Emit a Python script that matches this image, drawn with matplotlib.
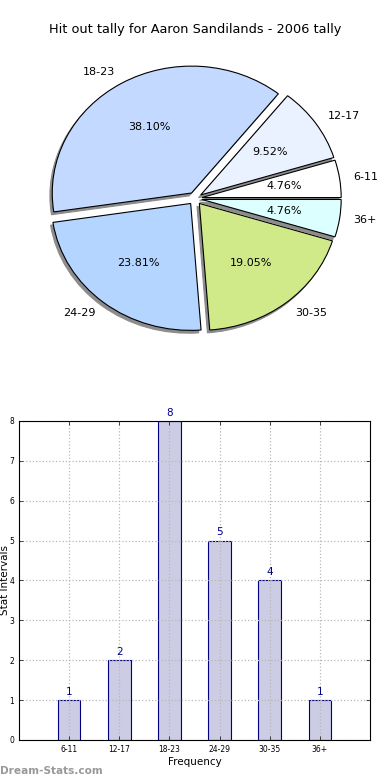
import matplotlib
matplotlib.use("Agg")
import matplotlib.pyplot as plt

# data
groups = ["6-11", "12-17", "18-23", "24-29", "30-35", "36+"]
counts = [1, 2, 8, 5, 4, 1]
pie_colors = ["#ffffff", "#eaf1ff", "#c4d9ff", "#b4d5ff", "#d0ea8a", "#dcffff"]
explode = [0.05] * len(groups)

fig = plt.figure(figsize=(3.9, 7.8), dpi=100)

# pie chart (top)
ax1 = fig.add_axes([0.0, 0.534, 1.0, 0.423])
ax1.pie(counts, labels=groups, colors=pie_colors, explode=explode,
        autopct="%1.2f%%", startangle=0, labeldistance=1.1,
        shadow={"ox": -0.012, "oy": -0.016, "facecolor": "#8c8c8c",
                "edgecolor": "#8c8c8c", "alpha": 1.0},
        wedgeprops={"edgecolor": "black", "linewidth": 0.8},
        textprops={"fontsize": 8})
ax1.set_aspect("auto")
ax1.set_xlim(-1.4, 1.4)
ax1.set_ylim(-1.3, 1.3)
fig.text(0.5, 1 - 30 / 780, "Hit out tally for Aaron Sandilands - 2006 tally",
         ha="center", va="center", fontsize=9.3)

# bar chart (bottom)
ax2 = fig.add_axes([0.0487, 0.0513, 0.9, 0.409])
xpos = list(range(1, len(groups) + 1))
ax2.bar(xpos, counts, width=0.45, color="#ccccE4",
        edgecolor="#000080", linewidth=0.8)
for x, c in zip(xpos, counts):
    ax2.text(x, c + 0.08, str(c), ha="center", va="bottom", color="#00008b", fontsize=7.5)
ax2.set_xlim(0, 7)
ax2.set_ylim(0, 8)
ax2.set_xticks(xpos)
ax2.set_xticklabels(groups)
ax2.set_yticks(range(0, 9))
ax2.tick_params(direction="in", labelsize=5.5, top=True, right=True, length=3, width=0.5)
ax2.grid(True, linestyle=":", color="#b8b8b8", linewidth=0.9)
ax2.set_axisbelow(False)
ax2.set_xlabel("Frequency", fontsize=7.5, labelpad=2)
ax2.set_ylabel("Stat Intervals", fontsize=7.5)
ax2.yaxis.set_label_coords(-0.027, 0.5)
for s in ax2.spines.values():
    s.set_linewidth(0.8)
    s.set_zorder(4)

fig.text(0.0, 1 - 771 / 780, "Dream-Stats.com", ha="left", va="center",
         fontsize=7.6, color="#999999", fontweight="bold")

fig.savefig("out.png", dpi=100)
